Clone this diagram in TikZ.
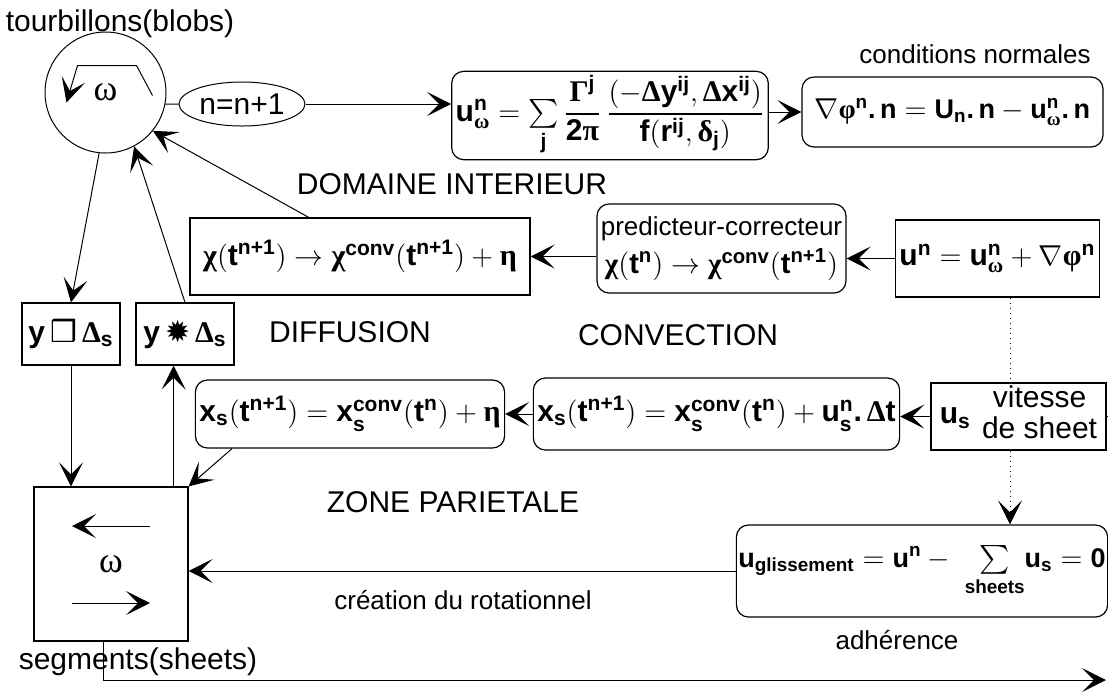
\documentclass[tikz,border=0pt]{standalone}
\usepackage{amsmath}
\usepackage{fontspec}
\setmainfont{Liberation Sans}
\newfontfamily\grk{Liberation Serif}
\newfontfamily\dvs{DejaVu Sans}
\usetikzlibrary{arrows.meta,positioning,calc,shapes.geometric}
\newcommand{\bld}[1]{\text{\bfseries #1}}
\newcommand{\grl}[1]{\text{\grk #1}}
\newcommand{\lsub}[1]{\lower1.5pt\hbox{$\scriptstyle\bld{#1}$}}
\tikzset{
  box/.style={rectangle, draw=black, line width=0.6pt, align=center, inner sep=2pt},
  rbox/.style={box, rounded corners=6pt},
  fml/.style={font=\fontsize{15}{17}\selectfont\bfseries},
  fmlsm/.style={font=\fontsize{13.5}{15}\selectfont\bfseries},
  lab/.style={font=\fontsize{15}{17}\selectfont},
  labsm/.style={font=\fontsize{13}{15}\selectfont},
  ar/.style={-{Stealth[length=12pt,width=12pt,inset=6pt]}, line width=0.5pt},
  ln/.style={line width=0.5pt},
}

\begin{document}
\begin{tikzpicture}[x=0.5pt,y=-0.5pt]
\useasboundingbox (0,0) rectangle (1108,693);

% ================= domaine interieur =================
\node[circle, draw, ln, minimum size=60.5pt, inner sep=0pt,
      font=\fontsize{18}{20}\selectfont\grk] (blob) at (105.5,92.5) {ω};
\node[lab] (blobl) at (120,24) {tourbillons(blobs)};
\draw[ar] ($(blob)+(47,3)$) -- ++(-16,-30) -- ++(-59,0) -- ++(-11,37);

\node[ellipse, draw, ln, minimum width=54.5pt, minimum height=22pt, inner sep=1pt, lab]
  (cnt) at (242,104) {n=n+1};

\node[rbox, fml, minimum width=148pt, minimum height=42.5pt] (uw) at (610,115.5)
  {$\bld{u}^{\bld{n}}_{\grl{ω}} = \sum\limits_{\bld{j}}\dfrac{\grl{Γ}^{\bld{j}}}{\bld{2}\grl{π}}\,
   \dfrac{(-\grl{Δ}\bld{y}^{\bld{ij}},\grl{Δ}\bld{x}^{\bld{ij}})}{\bld{f}(\bld{r}^{\bld{ij}},\grl{δ}_{\bld{j}})}$};

\node[labsm] (condl) at (975,54) {conditions normales};
\node[rbox, fmlsm, minimum width=150.5pt, minimum height=35pt] (cond) at (952.5,112)
  {$\nabla\grl{φ}^{\bld{n}}\bld{.\,n} = \bld{U}_{\bld{n}}\bld{.\,n} - \bld{u}^{\bld{n}}_{\grl{ω}}\bld{.\,n}$};

\draw[ln] (blob.-11) -- (cnt.west);
\draw[ar] (cnt.east) -- (cnt.east -| uw.west);
\draw[ar] (uw.east |- cond.west) -- (cond.west);

\node[lab] (dom) at (452,184) {DOMAINE INTERIEUR};

\node[box, fml, minimum width=170pt, minimum height=38.5pt] (chi) at (360,256.5)
  {$\grl{χ}(\bld{t}^{\bld{n+1}}) \rightarrow \grl{χ}^{\bld{conv}}(\bld{t}^{\bld{n+1}}) + \grl{η}$};
\node[rbox, minimum width=124.5pt, minimum height=44.5pt, inner sep=1pt] (pred) at (721.5,248.5)
  {{\fontsize{13}{15}\selectfont predicteur-correcteur}\\[3pt]
   {\fontsize{14.5}{17}\selectfont\bfseries$\grl{χ}(\bld{t}^{\bld{n}}) \rightarrow \grl{χ}^{\bld{conv}}(\bld{t}^{\bld{n+1}})$}};
\node[box, fml, minimum width=99.5pt, minimum height=38.5pt] (un) at (997.5,258.5)
  {$\bld{u}^{\bld{n}} = \bld{u}^{\bld{n}}_{\grl{ω}} + \nabla\grl{φ}^{\bld{n}}$};

\draw[ar] (un.west) -- (un.west -| pred.east);
\draw[ar] (pred.west |- chi.east) -- (chi.east);
\draw[ar] ($(chi.north west)!0.35!(chi.north east)$) -- (blob.-39);

% ================= diffusion / convection =================
\node[lab] (diff) at (350,332) {DIFFUSION};
\node[lab] (conv) at (678,335) {CONVECTION};

\node[box, fml, minimum width=49pt, minimum height=31pt] (ysq) at (71,334)
  {y\,{\dvs\mdseries ❒}\,$\grl{Δ}_{\bld{s}}$};
\node[box, fml, minimum width=49pt, minimum height=31pt] (yst) at (185,334)
  {y\,{\dvs\mdseries ✹}\,$\grl{Δ}_{\bld{s}}$};

\draw[ar] (blob.-96) -- (ysq.north);
\draw[ar] (yst.north) -- (blob.-62);

\node[rbox, fml, minimum width=147pt, minimum height=34pt] (xd) at (350,414)
  {$\bld{x}_{\bld{s}}(\bld{t}^{\bld{n+1}}) = \bld{x}^{\bld{conv}}_{\lsub{s}}(\bld{t}^{\bld{n}}) + \grl{η}$};
\node[rbox, fml, minimum width=174.5pt, minimum height=36pt] (xc) at (716.5,414)
  {$\bld{x}_{\bld{s}}(\bld{t}^{\bld{n+1}}) = \bld{x}^{\bld{conv}}_{\lsub{s}}(\bld{t}^{\bld{n}}) + \bld{u}^{\bld{n}}_{\lsub{s}}\bld{.}\,\grl{Δ}\bld{t}$};
\node[box, minimum width=87.5pt, minimum height=33.5pt, inner sep=1pt] (us) at (1018.5,416.5)
  {{\fontsize{15}{17}\selectfont\bfseries$\bld{u}_{\bld{s}}$}\ \ 
   {\fontsize{15}{15}\selectfont\begin{tabular}[c]{@{}c@{}}vitesse\\de sheet\end{tabular}}};

\draw[ar] (xc.west) -- (xd.east);
\draw[ar] (us.west) -- (us.west -| xc.east);
\coordinate (usend) at (1108,416.5);
\draw[ln] (us.east) -- (usend);

% ================= zone parietale =================
\node[lab] (zone) at (453,502) {ZONE PARIETALE};

\node[box, minimum width=77pt, minimum height=77pt, font=\fontsize{18}{20}\selectfont\grk]
  (seg) at (111,564) {ω};
\node[lab] (segl) at (138,662) {segments(sheets)};
\draw[ar] ($(seg)+(39,-38)$) -- ++(-78,0);
\draw[ar] ($(seg)+(-39,39)$) -- ++(78,0);

\node[rbox, fmlsm, minimum width=182pt, minimum height=46pt, inner sep=1pt] (ug) at (922,571)
  {$\bld{u}_{\bld{glissement}} = \bld{u}^{\bld{n}} -\; \sum\limits_{\bld{sheets}}\!\bld{u}_{\bld{s}} = \bld{0}$};
\node[labsm] (adh) at (897,640) {adhérence};
\node[labsm] (crea) at (463,600) {création du rotationnel};

\draw[ar] (ysq.south) -- (ysq.south |- seg.north);
\coordinate (segup) at ($(seg.north east)+(-15,0)$);
\draw[ar] (segup) -- (segup |- yst.south);
\draw[ar] ($(xd.south west)!0.12!(xd.south east)$) -- (seg.north east);
\draw[ar] (ug.west) -- (ug.west -| seg.east);

% dotted link from the velocity down to the wall condition
\coordinate (dx) at (1010,0);
\draw[ln, dotted] (dx |- un.south) -- (dx |- us.north);
\draw[ar, dotted] (dx |- us.south) -- (dx |- ug.north);

\coordinate (outend) at (1106,680);
\draw[ar] ([xshift=-4pt]seg.south) |- (outend);

\end{tikzpicture}
\end{document}
